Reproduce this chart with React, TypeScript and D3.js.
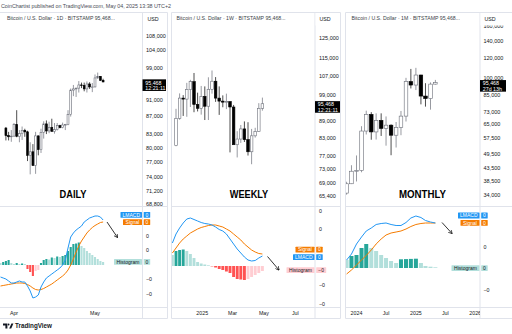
import React from "react";
import * as d3 from "d3";

const FONT = "'Liberation Sans', Arial, Helvetica, sans-serif";
const TEXT = "#131722";
const GRID = "#e0e3eb";
const UP_STROKE = "#6b6e78";
const DOWN = "#000000";
const BLUE = "#2196f3";
const ORANGE = "#f57c00";
const GROW_ABOVE = "#26a69a";
const FALL_ABOVE = "#b2dfdb";
const GROW_BELOW = "#ff5252";
const FALL_BELOW = "#ffcdd2";

const TOP = 12.5;
const SEP = 206.5;
const AXIS = 307.5;
const BOTTOM = 318.5;

// ---------------- DATA ----------------
// Daily candles Mar 29 .. May 4 2025  [open, high, low, close]
const dailyCandles: number[][] = [
  [84350, 84600, 81600, 82650], [82650, 83500, 81600, 82400], [82400, 83900, 81300, 82550],
  [82550, 85500, 82400, 85150], [85150, 88500, 82300, 82500], [82500, 83900, 81200, 83100],
  [83100, 84700, 81700, 83850], [83850, 84200, 82400, 83500], [83500, 83750, 77200, 78400],
  [78400, 81200, 74500, 79150], [79150, 80800, 76200, 76300], [76300, 83500, 74600, 82600],
  [82600, 82700, 78400, 79600], [79600, 84200, 78900, 83400], [83400, 85900, 82000, 85300],
  [85300, 86100, 83000, 83700], [83700, 85800, 83200, 84500], [84500, 86500, 83600, 83600],
  [83600, 85500, 83100, 84000], [84000, 85500, 83800, 84900], [84900, 85100, 84300, 84450],
  [84450, 85600, 84300, 85050], [85050, 85300, 83900, 85150], [85150, 88500, 85000, 87500],
  [87500, 93800, 87000, 93400], [93400, 94700, 91900, 93700], [93700, 94000, 91700, 93900],
  [93900, 95700, 92800, 94700], [94700, 95300, 93900, 94600], [94600, 95300, 93100, 93700],
  [93700, 95600, 92800, 94950], [94950, 95400, 93700, 94200], [94200, 95200, 92900, 94200],
  [94200, 97400, 94100, 96500], [96500, 97900, 96300, 96900], [96900, 97000, 95700, 95900],
  [95900, 96300, 95400, 95468],
];
// Daily LMACD pane, Mar 27 .. May 4 (indicator units)
const dailyLmacd = [-12, -13, -14, -16, -18, -18, -17, -16, -17, -17, -21, -26, -33, -32, -30, -22, -17, -13, -11, -9, -7, -5, -3, 0, 5, 17, 28, 32, 35, 37, 39, 43, 45, 47, 48, 49, 49, 48, 45];
const dailySignal = [-21, -20.5, -20, -19.5, -19, -18.5, -18, -18, -18, -18.5, -19.5, -21, -23, -24.5, -25, -24.5, -23.5, -22, -20.5, -19, -17, -15, -13, -11, -8.5, -5, 0, 6, 13, 19, 24, 28, 32, 35, 37.5, 39.5, 41, 42.5, 43];
const dailyHist = [2, 3, 4, 5, 2, 1, 2, 1, 1.5, 1, -4, -7, -11, -6, -5, 2, 5, 6, 5.5, 7.5, 7, 8.5, 8, 9, 10, 14, 18, 21, 21.5, 22.5, 19, 17, 14, 12, 10, 8, 6, 4, 3];
const dailyPriceTicks = [108000, 104000, 99000, 91000, 87000, 83000, 80000, 77000, 74000, 71200, 68800];
const dailyMacdTicks = [29, 14.5, -14.5, -29];
const dailyMacdTickLabels = ["0", "0", "\u22120", "\u22120"];

// Weekly candles Nov 11 2024 .. Apr 28 2025
const weeklyCandles: number[][] = [
  [80400, 93500, 80200, 89900], [89900, 99600, 89400, 97700], [97700, 98900, 90800, 97300],
  [97300, 104000, 90500, 101200], [101200, 105300, 94200, 104500], [104500, 108300, 92200, 95200],
  [95200, 99900, 92500, 93700], [93700, 102700, 91300, 98400], [98400, 102500, 89300, 94500],
  [94500, 106400, 89300, 101300], [101300, 109400, 99500, 104700], [104700, 106500, 96200, 97700],
  [97700, 102500, 91200, 96500], [96500, 98800, 94100, 96100], [96100, 99500, 93400, 96300],
  [96300, 96500, 78200, 94200], [94200, 95000, 81200, 80700], [80700, 85300, 76600, 82600],
  [82600, 87500, 81300, 86100], [86100, 88800, 81600, 82400], [82400, 88500, 77200, 78400],
  [78400, 86100, 74500, 83700], [83700, 86500, 83100, 85200], [85200, 95700, 85100, 93700],
  [93700, 97900, 92800, 95468],
];
// Weekly LMACD pane, Nov 4 2024 .. Apr 28 2025
const weeklyLmacd = [23, 32, 38, 43, 47, 48, 46.5, 45, 43.5, 42.5, 42, 41, 39, 36.5, 35, 32, 27, 22, 17, 13, 9, 6, 5, 5.5, 8, 10];
const weeklySignal = [13, 18, 23, 27, 30, 33, 35, 37, 38.5, 39.5, 40.5, 41, 41, 40, 39, 37, 35, 32, 29, 26, 22, 19, 16, 14, 12.5, 12];
const weeklyHist = [11, 15, 16, 16.5, 15, 12, 8, 4, 2.5, 1.5, 0.7, -0.3, -1.5, -3, -4, -5.5, -7, -11, -13, -13.5, -14, -13, -11, -9, -7, -5];
const weeklyPriceTicks = [125000, 115000, 107000, 99000, 89000, 83000, 77000, 73000, 69000, 65400];
const weeklyMacdTicks = [55, 37, -19, -38];
const weeklyMacdTickLabels = ["0", "0", "\u22120", "\u22120"];

// Monthly candles Nov 2023 .. May 2025
const monthlyCandles: number[][] = [
  [34600, 38400, 34100, 37700], [37700, 44700, 37600, 42300], [42300, 48900, 38500, 42600],
  [42600, 64000, 41900, 61200], [61200, 73800, 59300, 71300], [71300, 72800, 56500, 60700],
  [60700, 72000, 56600, 67500], [67500, 72000, 58500, 62700], [62700, 70000, 53500, 64600],
  [64600, 65100, 49000, 58900], [58900, 66500, 52600, 63300], [63300, 73600, 58900, 70200],
  [70200, 99800, 66800, 96400], [96400, 108300, 90500, 93400], [93400, 109400, 89200, 102400],
  [102400, 102700, 78200, 84400], [84400, 95000, 76600, 82500], [82500, 95700, 74500, 94200],
  [94200, 97900, 93800, 95468],
];
const monthlyLmacd = [8, 14, 24, 31, 37, 40, 43.5, 44.5, 45, 43.5, 42.5, 42.5, 45.5, 50, 52, 50.5, 47.5, 46, 45];
const monthlySignal = [-6, -2, 3, 8, 12.5, 18, 24, 29, 33, 35, 36, 37, 39, 41.5, 43.5, 44.5, 45, 45, 45];
const monthlyHist = [8, 12, 13, 20, 24, 20, 17, 13, 10, 7, 5, 8.7, 8.9, 9.1, 9.3, 5, 2, 1.3, 0.7];
const monthlyPriceTicks = [160000, 140000, 120000, 100000, 85000, 73000, 65000, 57500, 49500, 43500, 38500, 34000];
const monthlyMacdTicks = [21, -22];
const monthlyMacdTickLabels = ["0", "\u22120"];

const lastPrice = 95468;
const headerText = "CoinChartist published on TradingView.com, May 04, 2025 13:38 UTC+2";

const U = (y: number, m: number, d: number) => new Date(Date.UTC(y, m, d));

type Box = { name: string; value: string; fill: string; textFill: string; cy: number; w: number; vw: number };
type PanelCfg = {
  id: string;
  left: number; plotRight: number; right: number;
  titleX: number; title: string;
  label: string; labelX: number; labelW: number;
  candles: number[][]; dates: Date[];
  x: d3.ScaleTime<number, number>;
  y: d3.ScaleLogarithmic<number, number>;
  priceTicks: number[]; axisX: number; usdX: number;
  bw: number; hw: number;
  macdDates: Date[]; lmacd: number[]; signal: number[]; hist: number[];
  my: d3.ScaleLinear<number, number>;
  macdTicks: number[]; macdTickLabels: string[];
  timeTicks: { d: Date; label: string }[];
  boxes: Box[];
  priceBoxW: number; priceLine2: string;
  arrow: number[];
};

const LM = (cy: number): Box => ({ name: "LMACD", value: "0", fill: BLUE, textFill: "#fff", cy, w: 21.5, vw: 6.5 });
const SG = (cy: number): Box => ({ name: "Signal", value: "0", fill: ORANGE, textFill: "#fff", cy, w: 19, vw: 6.5 });
const HG = (cy: number, neg: boolean): Box => ({
  name: "Histogram", value: neg ? "\u22120" : "0", fill: neg ? FALL_BELOW : FALL_ABOVE, textFill: TEXT, cy, w: 28, vw: neg ? 10 : 6.5,
});

function buildPanels(): PanelCfg[] {
  const daily: PanelCfg = {
    id: "d", left: 0, plotRight: 142.5, right: 167.5, titleX: 7,
    title: "Bitcoin / U.S. Dollar \u00b7 1D \u00b7 BITSTAMP  95,468...",
    label: "DAILY", labelX: 73, labelW: 27,
    candles: dailyCandles, dates: d3.utcDay.range(U(2025, 2, 29), U(2025, 4, 5)),
    x: d3.scaleUtc().domain([U(2025, 2, 29), U(2025, 4, 4)]).range([5.9, 103.1]),
    y: d3.scaleLog().domain([68800, 108000]).range([204, 36]),
    priceTicks: dailyPriceTicks, axisX: 146, usdX: 147.5,
    bw: 1.9, hw: 2.1,
    macdDates: d3.utcDay.range(U(2025, 2, 27), U(2025, 4, 5)),
    lmacd: dailyLmacd, signal: dailySignal, hist: dailyHist,
    my: d3.scaleLinear().domain([-42, 58]).range([307, 207]),
    macdTicks: dailyMacdTicks, macdTickLabels: dailyMacdTickLabels,
    timeTicks: [{ d: U(2025, 3, 1), label: "Apr" }, { d: U(2025, 4, 1), label: "May" }],
    boxes: [LM(214.8), SG(222.2), HG(261.8, false)],
    priceBoxW: 23.5, priceLine2: "12:21:11",
    arrow: [107, 222, 117.5, 237.5],
  };
  const weekly: PanelCfg = {
    id: "w", left: 171.5, plotRight: 315, right: 340.5, titleX: 176.5,
    title: "Bitcoin / U.S. Dollar \u00b7 1W \u00b7 BITSTAMP  95,468...",
    label: "WEEKLY", labelX: 249, labelW: 38.5,
    candles: weeklyCandles, dates: d3.utcMonday.range(U(2024, 10, 11), U(2025, 3, 29)),
    x: d3.scaleUtc().domain([U(2024, 10, 11), U(2025, 3, 28)]).range([176, 262.4]),
    y: d3.scaleLog().domain([65400, 125000]).range([196, 38]),
    priceTicks: weeklyPriceTicks, axisX: 319, usdX: 319.5,
    bw: 2.6, hw: 2.9,
    macdDates: d3.utcMonday.range(U(2024, 10, 4), U(2025, 3, 29)),
    lmacd: weeklyLmacd, signal: weeklySignal, hist: weeklyHist,
    my: d3.scaleLinear().domain([-41, 59]).range([307, 207]),
    macdTicks: weeklyMacdTicks, macdTickLabels: weeklyMacdTickLabels,
    timeTicks: [
      { d: U(2025, 0, 1), label: "2025" }, { d: U(2025, 2, 1), label: "Mar" },
      { d: U(2025, 4, 1), label: "May" }, { d: U(2025, 6, 1), label: "Jul" },
    ],
    boxes: [SG(249.7), LM(257.2), HG(270.2, true)],
    priceBoxW: 25, priceLine2: "12:21:11",
    arrow: [267.5, 256.5, 279, 270],
  };
  const monthly: PanelCfg = {
    id: "m", left: 345.5, plotRight: 480, right: 512, titleX: 351.5,
    title: "Bitcoin / U.S. Dollar \u00b7 1M \u00b7 BITSTAMP  95,468...",
    label: "MONTHLY", labelX: 422.5, labelW: 47,
    candles: monthlyCandles, dates: d3.utcMonth.range(U(2023, 10, 1), U(2025, 5, 1)),
    x: d3.scaleUtc().domain([U(2024, 0, 1), U(2025, 0, 1)]).range([356.5, 415.9]),
    y: d3.scaleLog().domain([34000, 140000]).range([195, 41]),
    priceTicks: monthlyPriceTicks, axisX: 483.5, usdX: 484.5,
    bw: 3.6, hw: 4,
    macdDates: d3.utcMonth.range(U(2023, 10, 1), U(2025, 5, 1)),
    lmacd: monthlyLmacd, signal: monthlySignal, hist: monthlyHist,
    my: d3.scaleLinear().domain([-39, 61]).range([307, 207]),
    macdTicks: monthlyMacdTicks, macdTickLabels: monthlyMacdTickLabels,
    timeTicks: [
      { d: U(2024, 0, 1), label: "2024" }, { d: U(2024, 6, 1), label: "Jul" },
      { d: U(2025, 0, 1), label: "2025" }, { d: U(2025, 6, 1), label: "Jul" },
      { d: U(2026, 0, 1), label: "2026" },
    ],
    boxes: [LM(215.5), SG(222.9), HG(268.1, false)],
    priceBoxW: 26, priceLine2: "27d 13h",
    arrow: [442, 222.5, 452, 233.5],
  };
  return [daily, weekly, monthly];
}

const fmt = d3.format(",");

function histColor(v: number, prev: number) {
  if (v >= 0) return prev < v ? GROW_ABOVE : FALL_ABOVE;
  return prev > v ? GROW_BELOW : FALL_BELOW;
}

function Panel({ p }: { p: PanelCfg }) {
  const pw = p.plotRight - p.left;
  const line = d3
    .line<number>()
    .x((_, i) => p.x(p.macdDates[i]))
    .y((v) => p.my(v));
  const zero = p.my(0);
  const yl = p.y(lastPrice);
  return (
    <g>
      <defs>
        <clipPath id={`${p.id}-price`}>
          <rect x={p.left} y={TOP} width={pw} height={SEP - TOP} />
        </clipPath>
        <clipPath id={`${p.id}-macd`}>
          <rect x={p.left} y={SEP} width={pw} height={AXIS - SEP} />
        </clipPath>
        <clipPath id={`${p.id}-time`}>
          <rect x={p.left} y={AXIS} width={pw} height={BOTTOM - AXIS} />
        </clipPath>
      </defs>

      {/* candles */}
      <g clipPath={`url(#${p.id}-price)`}>
        {p.candles.map(([o, h, l, c], i) => {
          const cx = p.x(p.dates[i]);
          const up = c >= o;
          const top = p.y(Math.max(o, c));
          const bot = p.y(Math.min(o, c));
          const col = up ? UP_STROKE : DOWN;
          return (
            <g key={i}>
              <line x1={cx} x2={cx} y1={p.y(h)} y2={p.y(l)} stroke={col} strokeWidth={0.7} />
              <rect
                x={cx - p.bw / 2}
                y={top}
                width={p.bw}
                height={Math.max(bot - top, 0.6)}
                fill={up ? "#ffffff" : DOWN}
                stroke={col}
                strokeWidth={0.6}
              />
            </g>
          );
        })}
      </g>

      {/* indicator pane */}
      <g clipPath={`url(#${p.id}-macd)`}>
        {p.hist.map((v, i) => {
          const cx = p.x(p.macdDates[i]);
          const yv = p.my(v);
          return (
            <rect
              key={i}
              x={cx - p.hw / 2}
              y={Math.min(yv, zero)}
              width={p.hw}
              height={Math.max(Math.abs(yv - zero), 0.4)}
              fill={histColor(v, i > 0 ? p.hist[i - 1] : v)}
            />
          );
        })}
        <path d={line(p.signal) || ""} fill="none" stroke={ORANGE} strokeWidth={1} />
        <path d={line(p.lmacd) || ""} fill="none" stroke={BLUE} strokeWidth={1} />
      </g>

      {/* frame */}
      <g stroke={GRID} strokeWidth={1}>
        <line x1={p.left} x2={p.right} y1={TOP} y2={TOP} />
        <line x1={p.left} x2={p.right} y1={SEP} y2={SEP} />
        <line x1={p.left} x2={p.right} y1={AXIS} y2={AXIS} />
        <line x1={p.left} x2={p.right} y1={BOTTOM} y2={BOTTOM} />
        <line x1={p.plotRight} x2={p.plotRight} y1={TOP} y2={BOTTOM} />
        {p.left > 0 && <line x1={p.left} x2={p.left} y1={TOP} y2={BOTTOM} />}
        {p.right < 512 && <line x1={p.right} x2={p.right} y1={TOP} y2={BOTTOM} />}
      </g>

      <text x={p.titleX} y={20.2} fontSize={5.2} fill="#3c3f48">
        {p.title}
      </text>

      <text
        x={p.labelX}
        y={198.3}
        fontSize={10.5}
        fontWeight="bold"
        textAnchor="middle"
        textLength={p.labelW}
        lengthAdjust="spacingAndGlyphs"
        fill="#000"
      >
        {p.label}
      </text>

      {/* price axis */}
      {p.priceTicks.map((t) => (
        <text key={t} x={p.axisX} y={p.y(t)} dy="0.35em" fontSize={5.5} fill={TEXT}>
          {fmt(t)}
        </text>
      ))}
      <rect x={p.plotRight + 0.5} y={TOP + 0.5} width={p.right - p.plotRight - 1} height={12.5} fill="#fff" />
      <text x={p.usdX} y={20.5} fontSize={5.3} fill={TEXT}>
        USD
      </text>
      <rect x={p.plotRight} y={yl - 2.6} width={p.priceBoxW} height={11.6} fill="#000" />
      <text x={p.plotRight + 2.8} y={yl + 0.7} dy="0.35em" fontSize={5.3} fill="#fff">
        {fmt(lastPrice)}
      </text>
      <text x={p.plotRight + 2.8} y={yl + 6.2} dy="0.35em" fontSize={5.3} fill="#fff">
        {p.priceLine2}
      </text>

      {/* indicator axis */}
      {p.macdTicks.map((t, i) => (
        <text key={i} x={p.axisX} y={p.my(t)} dy="0.35em" fontSize={5.3} fill={TEXT}>
          {p.macdTickLabels[i]}
        </text>
      ))}
      {p.boxes.map((b, i) => (
        <g key={i}>
          <rect x={p.plotRight - 0.5 - b.w} y={b.cy - 2.9} width={b.w} height={5.8} fill={b.fill} rx={0.5} />
          <text x={p.plotRight - 0.5 - b.w / 2} y={b.cy} dy="0.35em" fontSize={5} textAnchor="middle" fill={b.textFill}>
            {b.name}
          </text>
          <rect x={p.plotRight + 1.2} y={b.cy - 2.9} width={b.vw} height={5.8} fill={b.fill} rx={0.5} />
          <text x={p.plotRight + 1.2 + b.vw / 2} y={b.cy} dy="0.35em" fontSize={5} textAnchor="middle" fill={b.textFill}>
            {b.value}
          </text>
        </g>
      ))}

      <line
        x1={p.arrow[0]}
        y1={p.arrow[1]}
        x2={p.arrow[2]}
        y2={p.arrow[3]}
        stroke="#000"
        strokeWidth={0.8}
        markerEnd="url(#arrowhead)"
      />

      {/* time axis */}
      <g clipPath={`url(#${p.id}-time)`}>
        {p.timeTicks.map((t, i) => (
          <text key={i} x={p.x(t.d)} y={313} dy="0.35em" fontSize={5.3} textAnchor="middle" fill={TEXT}>
            {t.label}
          </text>
        ))}
      </g>
    </g>
  );
}

export default function App() {
  const panels = React.useMemo(() => buildPanels(), []);
  return (
    <svg
      width={512}
      height={334}
      viewBox="0 0 512 334"
      style={{ position: "absolute", left: 0, top: 0, display: "block" }}
      fontFamily={FONT}
    >
      <defs>
        <marker id="arrowhead" viewBox="0 0 8 8" refX="7" refY="4" markerWidth="5" markerHeight="5" orient="auto">
          <path d="M0,0 L7.5,4 L0,8" fill="none" stroke="#000" strokeWidth={1.3} />
        </marker>
      </defs>
      <rect width={512} height={334} fill="#fff" />
      <text x={1} y={8.4} fontSize={5.4} fill="#4a4d57" textLength={170} lengthAdjust="spacing">
        {headerText}
      </text>
      {panels.map((p) => (
        <Panel key={p.id} p={p} />
      ))}
      {/* footer logo */}
      <g fill={TEXT}>
        <path d="M3,323.6 h4.4 v4.8 h-2 v-3 h-2.4 z" />
        <circle cx={8.6} cy={324.5} r={0.9} />
        <path d="M9.2,328.4 l2.2,-4.8 h2 l-2.2,4.8 z" />
      </g>
      <text x={15} y={328.4} fontSize={6.3} fontWeight={600} fill={TEXT}>
        TradingView
      </text>
    </svg>
  );
}
